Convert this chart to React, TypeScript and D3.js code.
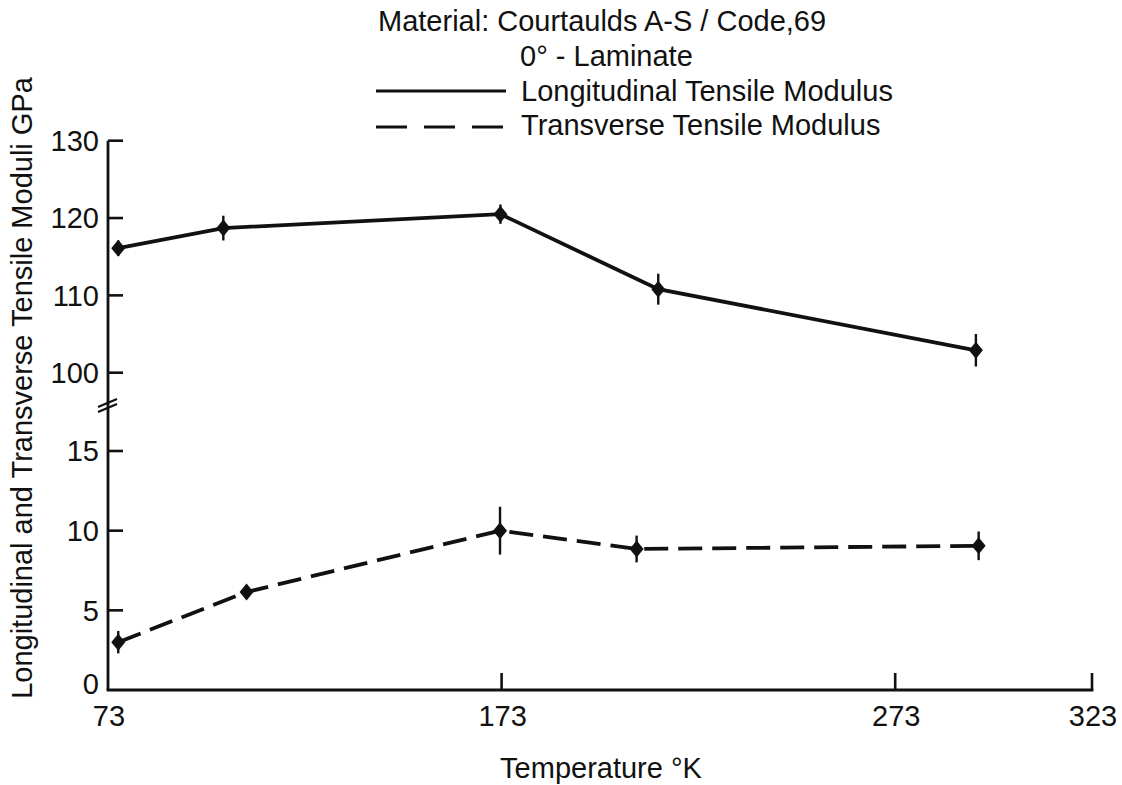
import React from "react";
import * as d3 from "d3";

const titleLines = ["Material: Courtaulds A-S / Code,69", "0° - Laminate"];
const seriesNames = ["Longitudinal Tensile Modulus", "Transverse Tensile Modulus"];
const xTicks = [73, 173, 273, 323];
const yTicksTop = [100, 110, 120, 130];
const yTicksBottom = [0, 5, 10, 15];

const longTemp = [75.6, 102.3, 172.7, 212.8, 293.5];
const longValue = [116.1, 118.7, 120.5, 110.8, 102.9];
const longErr = [1.0, 1.6, 1.25, 2.0, 2.1];

const transTemp = [75.6, 108.2, 172.6, 207.3, 294.2];
const transValue = [3.0, 6.15, 10.0, 8.85, 9.05];
const transErr = [0.7, 0, 1.5, 0.84, 0.9];

const W = 1122;
const H = 785;
const FONT = "'Liberation Sans', Arial, Helvetica, sans-serif";
const INK = "#111";
const FS = 29;

export default function App() {
  const x = d3.scaleLinear().domain([73, 323]).range([108, 1092]);
  const yTop = d3.scaleLinear().domain([100, 130]).range([372.7, 140.7]);
  const yBot = d3.scaleLinear().domain([0, 15]).range([690, 451]);

  const longPts = longTemp.map((t, i) => ({ t, v: longValue[i], e: longErr[i] }));
  const transPts = transTemp.map((t, i) => ({ t, v: transValue[i], e: transErr[i] }));

  const lineTop = d3
    .line<{ t: number; v: number }>()
    .x((d) => x(d.t))
    .y((d) => yTop(d.v));
  const lineBot = d3
    .line<{ t: number; v: number }>()
    .x((d) => x(d.t))
    .y((d) => yBot(d.v));

  const diamond = (cx: number, cy: number) =>
    `M${cx},${cy - 8.5} L${cx + 7},${cy} L${cx},${cy + 8.5} L${cx - 7},${cy} Z`;

  const x0 = x(73);
  const y0 = yBot(0);

  return (
    <svg
      width={W}
      height={H}
      style={{ position: "absolute", left: 0, top: 0, background: "#fff" }}
      fontFamily={FONT}
    >
      <rect width={W} height={H} fill="#fff" />
      {/* Title and legend */}
      <text x={378} y={31} fontSize={FS} fill={INK}>
        {titleLines[0]}
      </text>
      <text x={520} y={66} fontSize={FS} fill={INK}>
        {titleLines[1]}
      </text>
      <line x1={376} x2={506} y1={91} y2={91} stroke={INK} strokeWidth={3} />
      <text x={521} y={101} fontSize={FS} fill={INK}>
        {seriesNames[0]}
      </text>
      <line
        x1={376}
        x2={507}
        y1={127}
        y2={127}
        stroke={INK}
        strokeWidth={3}
        strokeDasharray="31 17"
      />
      <text x={521} y={135} fontSize={FS} fill={INK}>
        {seriesNames[1]}
      </text>

      {/* Axes */}
      <line x1={x0} x2={x0} y1={yTop(130)} y2={y0} stroke={INK} strokeWidth={2.8} />
      <line x1={x0 - 1.4} x2={x(323) + 1.4} y1={y0} y2={y0} stroke={INK} strokeWidth={2.8} />
      {/* axis break marks */}
      <line x1={x0 - 10} x2={x0 + 9} y1={407} y2={399} stroke={INK} strokeWidth={2.4} />
      <line x1={x0 - 10} x2={x0 + 9} y1={412} y2={404} stroke={INK} strokeWidth={2.4} />

      {yTicksTop.map((v) => (
        <g key={"yt" + v}>
          <line x1={x0} x2={x0 + 15} y1={yTop(v)} y2={yTop(v)} stroke={INK} strokeWidth={2.6} />
          <text x={99} y={yTop(v)} dy="0.36em" fontSize={FS} textAnchor="end" fill={INK}>
            {v}
          </text>
        </g>
      ))}
      {yTicksBottom.map((v) => (
        <g key={"yb" + v}>
          {v !== 0 && (
            <line x1={x0} x2={x0 + 15} y1={yBot(v)} y2={yBot(v)} stroke={INK} strokeWidth={2.6} />
          )}
          <text
            x={99}
            y={yBot(v) - (v === 0 ? 6 : 0)}
            dy="0.36em"
            fontSize={FS}
            textAnchor="end"
            fill={INK}
          >
            {v}
          </text>
        </g>
      ))}
      {xTicks.map((t) => (
        <g key={"xt" + t}>
          {t !== 73 && (
            <line x1={x(t)} x2={x(t)} y1={y0} y2={y0 - 17} stroke={INK} strokeWidth={2.6} />
          )}
          <text x={x(t) + 1} y={726} fontSize={FS} textAnchor="middle" fill={INK}>
            {t}
          </text>
        </g>
      ))}
      <text x={601} y={778} fontSize={FS} textAnchor="middle" fill={INK}>
        Temperature °K
      </text>
      <text
        transform={`translate(32, 388) rotate(-90)`}
        fontSize={FS}
        textAnchor="middle"
        fill={INK}
      >
        Longitudinal and Transverse Tensile Moduli GPa
      </text>

      {/* Longitudinal series */}
      <path d={lineTop(longPts) || ""} fill="none" stroke={INK} strokeWidth={3.8} />
      {longPts.map((d, i) => (
        <g key={"lp" + i}>
          {d.e > 0 && (
            <line
              x1={x(d.t)}
              x2={x(d.t)}
              y1={yTop(d.v + d.e)}
              y2={yTop(d.v - d.e)}
              stroke={INK}
              strokeWidth={2.4}
            />
          )}
          <path d={diamond(x(d.t), yTop(d.v))} fill={INK} />
        </g>
      ))}

      {/* Transverse series */}
      <path
        d={lineBot(transPts) || ""}
        fill="none"
        stroke={INK}
        strokeWidth={3.8}
        strokeDasharray="24 10"
      />
      {transPts.map((d, i) => (
        <g key={"tp" + i}>
          {d.e > 0 && (
            <line
              x1={x(d.t)}
              x2={x(d.t)}
              y1={yBot(d.v + d.e)}
              y2={yBot(d.v - d.e)}
              stroke={INK}
              strokeWidth={2.4}
            />
          )}
          <path d={diamond(x(d.t), yBot(d.v))} fill={INK} />
        </g>
      ))}
    </svg>
  );
}
